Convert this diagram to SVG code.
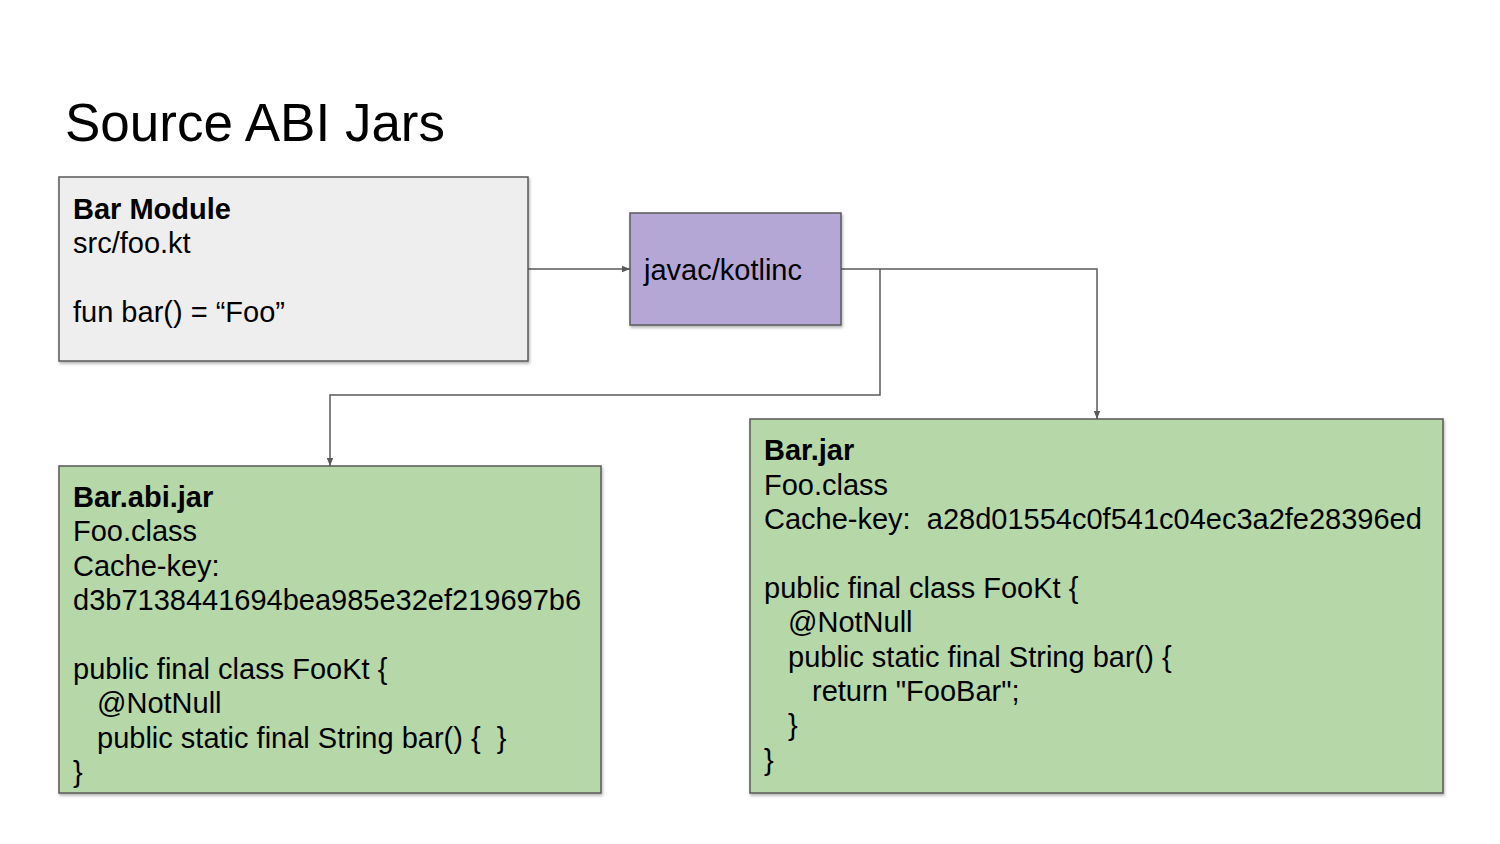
<svg xmlns="http://www.w3.org/2000/svg" width="1500" height="844" viewBox="0 0 1500 844">
<defs>
<filter id="sh" x="-5%" y="-5%" width="112%" height="115%">
<feDropShadow dx="1" dy="2" stdDeviation="1.5" flood-color="#000" flood-opacity="0.3"/>
</filter>
<marker id="arr" viewBox="0 0 10 10" refX="10" refY="5" markerWidth="8" markerHeight="8" markerUnits="userSpaceOnUse" orient="auto">
<path d="M0,1 L10,5 L0,9 z" fill="#595959"/>
</marker>
</defs>
<style>
.box{stroke:#595959;stroke-width:1.5;filter:url(#sh)}
.t{font-family:"Liberation Sans",Arial,sans-serif;font-size:29px;fill:#000}
.b{font-weight:bold}
.conn{fill:none;stroke:#595959;stroke-width:1.5}
</style>
<rect width="1500" height="844" fill="#fff"/>
<text x="65" y="141" font-family="Liberation Sans, Arial, sans-serif" font-size="53" fill="#000">Source ABI Jars</text>

<g id="connectors">
<path class="conn" d="M528,269 H630" marker-end="url(#arr)"/>
<path class="conn" d="M841,269 H1097 V419" marker-end="url(#arr)"/>
<path class="conn" d="M880,269 V395 H330 V466" marker-end="url(#arr)"/>
</g>

<g id="bar-module">
<rect class="box" x="59" y="177" width="469" height="184" fill="#eeeeee"/>
<text class="t b" x="73" y="219">Bar Module</text>
<text class="t" x="73" y="253">src/foo.kt</text>
<text class="t" x="73" y="322">fun bar() = “Foo”</text>
</g>

<g id="javac-kotlinc">
<rect class="box" x="630" y="213" width="211" height="112" fill="#b4a7d6"/>
<text class="t" x="644" y="280">javac/kotlinc</text>
</g>

<g id="bar-abi-jar">
<rect class="box" x="59" y="466" width="542" height="327" fill="#b6d7a8"/>
<text class="t b" x="73" y="507">Bar.abi.jar</text>
<text class="t" x="73" y="541">Foo.class</text>
<text class="t" x="73" y="576">Cache-key:</text>
<text class="t" x="73" y="610">d3b7138441694bea985e32ef219697b6</text>
<text class="t" x="73" y="679">public final class FooKt {</text>
<text class="t" x="97" y="713">@NotNull</text>
<text class="t" x="97" y="748" xml:space="preserve">public static final String bar() {  }</text>
<text class="t" x="73" y="782">}</text>
</g>

<g id="bar-jar">
<rect class="box" x="750" y="419" width="693" height="374" fill="#b6d7a8"/>
<text class="t b" x="764" y="460">Bar.jar</text>
<text class="t" x="764" y="495">Foo.class</text>
<text class="t" x="764" y="529" xml:space="preserve">Cache-key:  a28d01554c0f541c04ec3a2fe28396ed</text>
<text class="t" x="764" y="598">public final class FooKt {</text>
<text class="t" x="788" y="632">@NotNull</text>
<text class="t" x="788" y="667">public static final String bar() {</text>
<text class="t" x="812" y="701">return "FooBar";</text>
<text class="t" x="788" y="735">}</text>
<text class="t" x="764" y="770">}</text>
</g>
</svg>
